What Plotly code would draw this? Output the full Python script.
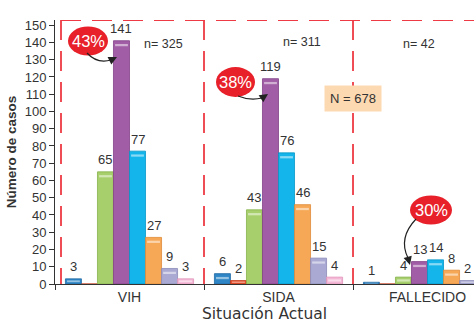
import plotly.graph_objects as go

# ---- data -------------------------------------------------------------
categories = ["VIH", "SIDA", "FALLECIDO"]

azul = [3, 6, 1]
rojo = [0, 2, 0]
verde = [65, 43, 4]
morado = [141, 119, 13]
celeste = [77, 76, 14]
naranja = [27, 46, 8]
lila = [9, 15, 2]
rosa = [3, 4, 0]

n_por_grupo = [325, 311, 42]
n_total = 678
porcentajes = ["43%", "38%", "30%"]

# ---- styling ----------------------------------------------------------
series = [azul, rojo, verde, morado, celeste, naranja, lila, rosa]
fills = ["#2f86c6", "#e8522e", "#a7cf6b", "#a15ea6", "#13b5eb",
         "#f6a857", "#aaa9d3", "#f4b8d6"]
edges = ["#1f6aa3", "#c23a1c", "#86b34c", "#834188", "#0895c5",
         "#e08a38", "#8c8bb8", "#e296ba"]

FONT = "Liberation Sans, Arial, sans-serif"
WIDE_FONT = "DejaVu Sans, Liberation Sans, sans-serif"
TXT = "#333333"
DASH_RED = "#ee3a44"

W, H = 474, 325
L, R, T, B = 55, 0, 20, 41
X_RANGE = [-0.5, 2.312]
Y_RANGE = [0, 153]

GROUP = 0.86
SLOT = GROUP / len(series)


def px2x(px):
    return X_RANGE[0] + (px - L) / (W - L - R) * (X_RANGE[1] - X_RANGE[0])


def px2y(py):
    return Y_RANGE[0] + (H - B - py) / (H - T - B) * (Y_RANGE[1] - Y_RANGE[0])


fig = go.Figure()
xs = list(range(len(categories)))
annotations = []
shapes = []

for i, (vals, fc, ec) in enumerate(zip(series, fills, edges)):
    off = -GROUP / 2 + i * SLOT
    fig.add_trace(go.Bar(
        x=xs, y=vals, offset=off, width=SLOT,
        marker=dict(color=fc, line=dict(color=ec, width=0.8)),
        showlegend=False, hoverinfo="y",
    ))
    # glossy highlight strip near the top of each bar
    hl_base = [max(v - 3.2, v * 0.35) if v > 0 else 0 for v in vals]
    hl_h = [min(1.3, v * 0.35) if v > 0 else 0 for v in vals]
    fig.add_trace(go.Bar(
        x=xs, y=hl_h, base=hl_base, offset=off + SLOT * 0.1, width=SLOT * 0.8,
        marker=dict(color="rgba(255,255,255,0.5)", line=dict(width=0)),
        showlegend=False, hoverinfo="skip",
    ))
    # value labels
    for c, v in zip(xs, vals):
        if v > 0:
            annotations.append(dict(
                x=c + off + SLOT / 2, y=v, text=str(v), showarrow=False,
                yanchor="middle", yshift=12,
                font=dict(size=13, color=TXT, family=FONT),
            ))

# group sizes
n_pos = [(163, 44), (302, 42), (419, 44)]
for n, (px, py) in zip(n_por_grupo, n_pos):
    annotations.append(dict(
        x=px2x(px), y=px2y(py), text=f"n= {n}", showarrow=False,
        font=dict(size=12.5, color=TXT, family=FONT),
    ))

# overall total box
annotations.append(dict(
    x=1.5, y=px2y(98.5), text=f"N = {n_total}", showarrow=False,
    bgcolor="#fdd9b2", borderpad=5,
    font=dict(size=13, color=TXT, family=FONT),
))

# dashed panel frame (dashes start from the top edge)
dash = "20px,11px"
for xv in [px2x(61), 0.5, 1.5]:
    shapes.append(dict(type="line", xref="x", yref="y", x0=xv, x1=xv,
                       y0=Y_RANGE[1], y1=0,
                       line=dict(color=DASH_RED, width=1.8, dash=dash)))
shapes.append(dict(type="line", xref="x", yref="y", x0=px2x(61), x1=X_RANGE[1],
                   y0=Y_RANGE[1], y1=Y_RANGE[1],
                   line=dict(color=DASH_RED, width=1.8, dash=dash)))

# percentage bubbles with curved arrows pointing to the purple bars
bubbles = [
    # centre px, size px, curve start, control, end, arrow tip
    dict(c=(88, 41), wh=(40, 29), p0=(87, 53), pc=(97, 64), p1=(111, 60), tip=(117, 57)),
    dict(c=(235.5, 82), wh=(39, 30), p0=(238, 96), pc=(250, 101), p1=(262, 98), tip=(268, 94)),
    dict(c=(431, 210), wh=(42, 29), p0=(416, 219), pc=(398, 238), p1=(408, 258), tip=(410, 265)),
]
for b, pct in zip(bubbles, porcentajes):
    (cx, cy), (bw, bh) = b["c"], b["wh"]
    shapes.append(dict(type="circle", xref="x", yref="y",
                       x0=px2x(cx - bw / 2), x1=px2x(cx + bw / 2),
                       y0=px2y(cy + bh / 2), y1=px2y(cy - bh / 2),
                       fillcolor="#e8202a", line=dict(width=0), layer="above"))
    annotations.append(dict(x=px2x(cx), y=px2y(cy), text=pct, showarrow=False,
                            font=dict(size=16.5, color="white", family=FONT)))
    (x0, y0), (xc, yc), (x1, y1) = b["p0"], b["pc"], b["p1"]
    path = (f"M {px2x(x0)},{px2y(y0)} Q {px2x(xc)},{px2y(yc)} "
            f"{px2x(x1)},{px2y(y1)}")
    shapes.append(dict(type="path", xref="x", yref="y", path=path,
                       line=dict(color="#222222", width=1.2), layer="above"))
    tx, ty = b["tip"]
    annotations.append(dict(x=px2x(tx), y=px2y(ty), ax=x1 - tx, ay=y1 - ty,
                            axref="pixel", ayref="pixel", text="",
                            showarrow=True, arrowhead=2, arrowsize=1.3,
                            arrowwidth=1.3, arrowcolor="#222222"))

fig.update_layout(
    width=W, height=H,
    margin=dict(l=L, r=R, t=T, b=B, pad=0),
    paper_bgcolor="white", plot_bgcolor="white",
    barmode="overlay",
    font=dict(family=FONT, color=TXT),
    annotations=annotations, shapes=shapes,
    xaxis=dict(
        range=X_RANGE, tickmode="array", tickvals=xs, ticktext=categories,
        ticks="", showgrid=False, zeroline=False,
        showline=True, linecolor="#333333", linewidth=1,
        tickfont=dict(size=14, color=TXT, family=FONT),
        minor=dict(ticks="outside", tick0=-0.5, dtick=1, ticklen=5,
                   tickcolor="#333333", showgrid=False),
        title=dict(text="Situación Actual", standoff=3,
                   font=dict(size=15.5, color=TXT, family=WIDE_FONT)),
    ),
    yaxis=dict(
        range=Y_RANGE, tickmode="linear", tick0=0, dtick=10,
        ticks="outside", ticklen=5, tickcolor="#333333",
        showgrid=False, zeroline=False,
        showline=True, linecolor="#333333", linewidth=1,
        tickfont=dict(size=13, color=TXT, family=FONT),
        title=dict(text="<b>Número de casos</b>", standoff=4,
                   font=dict(size=13.5, color=TXT, family=FONT)),
    ),
)

fig.write_html("out.html")
